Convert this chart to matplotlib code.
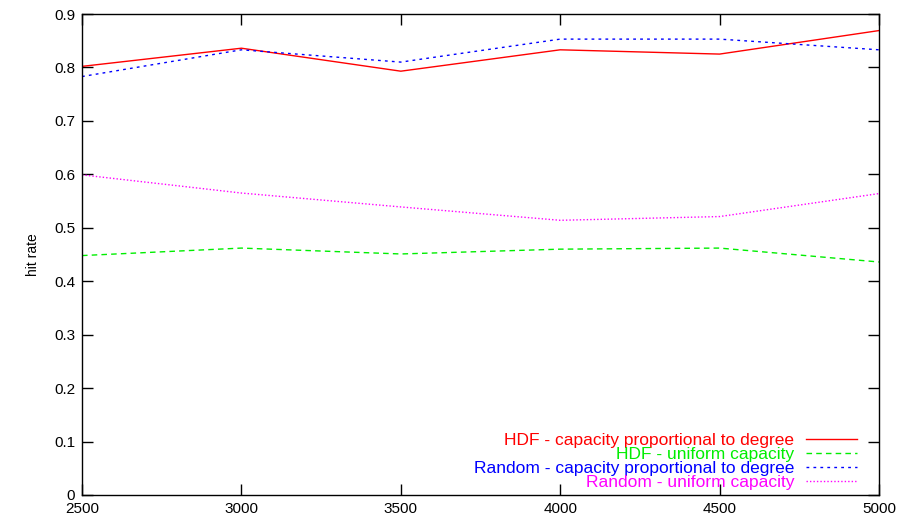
import matplotlib
matplotlib.use("Agg")
import matplotlib.pyplot as plt

plt.rcParams['font.family'] = ['Liberation Sans', 'DejaVu Sans']

n = [2500, 3000, 3500, 4000, 4500, 5000]
hdf_prop = [0.802, 0.836, 0.793, 0.833, 0.825, 0.869]
hdf_unif = [0.448, 0.462, 0.451, 0.460, 0.462, 0.436]
rnd_prop = [0.783, 0.833, 0.810, 0.853, 0.853, 0.833]
rnd_unif = [0.599, 0.565, 0.539, 0.514, 0.521, 0.564]

fig = plt.figure(figsize=(9.02, 5.23), dpi=100)
ax = fig.add_axes([82/902, 1 - 495/523, (879-82)/902, (495-14)/523])

ax.plot(n, hdf_prop, color='#ff0000', lw=1.0, label='HDF - capacity proportional to degree')
ax.plot(n, hdf_unif, color='#00ee00', lw=1.0, ls=(0, (4, 3)), label='HDF - uniform capacity')
ax.plot(n, rnd_prop, color='#0000ff', lw=1.0, ls=(0, (2, 3)), label='Random - capacity proportional to degree')
ax.plot(n, rnd_unif, color='#ff00ff', lw=1.0, ls=(0, (1, 1.5)), label='Random - uniform capacity')

ax.set_xlim(2500, 5000)
ax.set_ylim(0, 0.9)
ax.set_xticks([2500, 3000, 3500, 4000, 4500, 5000])
ax.set_yticks([0, 0.1, 0.2, 0.3, 0.4, 0.5, 0.6, 0.7, 0.8, 0.9])
ax.set_yticklabels(['0', '0.1', '0.2', '0.3', '0.4', '0.5', '0.6', '0.7', '0.8', '0.9'])
ax.tick_params(direction='in', length=8, width=1, top=True, right=True, labelsize=11, pad=5)
for s in ax.spines.values():
    s.set_linewidth(1.0)
ax.set_ylabel('hit rate', fontsize=10, labelpad=10)

leg = ax.legend(loc='lower right', frameon=False, markerfirst=False, fontsize=12.5,
                labelcolor='linecolor', handlelength=2.9, handletextpad=0.7,
                labelspacing=-0.06, borderaxespad=0.0, bbox_to_anchor=(0.9806, -0.005))
for t in leg.get_texts():
    t.set_ha('right')

fig.savefig('out.png', dpi=100)
